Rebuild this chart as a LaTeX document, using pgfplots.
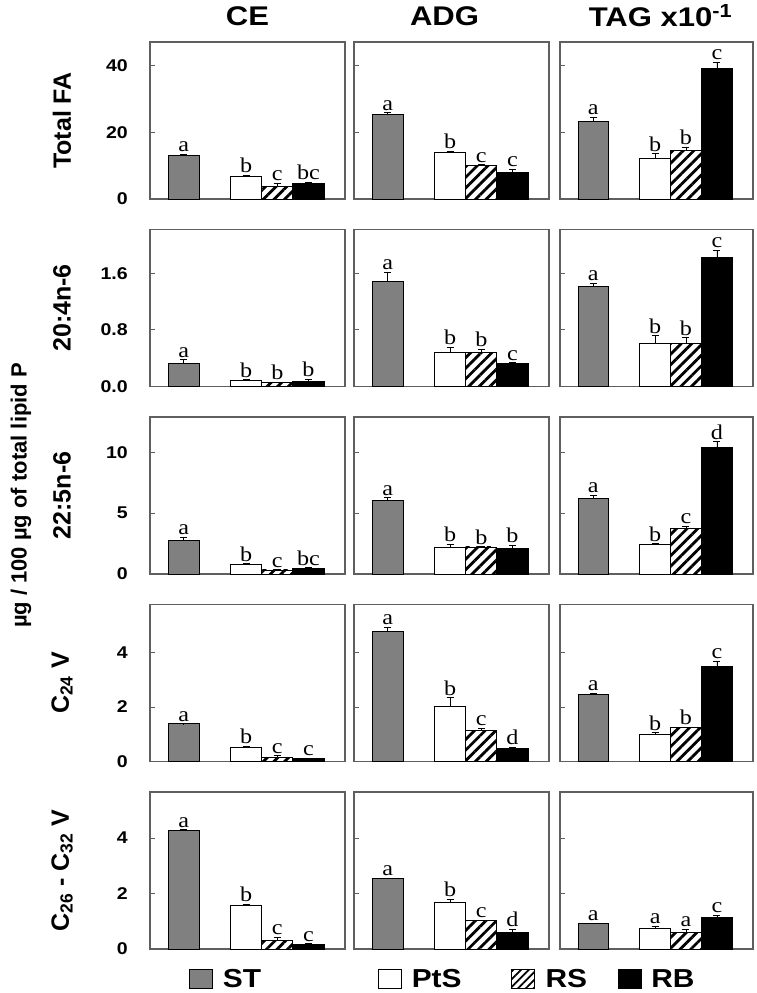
\documentclass[border=0pt]{standalone}
\usepackage{fontspec}
\setmainfont{Liberation Sans}[FakeStretch=1.15]
\newfontfamily\rotfont{Liberation Sans}
\newfontfamily\letterfont{Liberation Serif}[FakeStretch=1.15]
\usepackage{pgfplots}
\pgfplotsset{compat=1.18}
\usetikzlibrary{patterns.meta}
\definecolor{stgray}{RGB}{128,128,128}
\definecolor{framegray}{RGB}{95,95,95}
\newcommand\tickfont{\fontsize{17}{19}\selectfont\bfseries}
\newcommand\titlefont{\fontsize{27}{30}\selectfont\bfseries}
\newcommand\rowfont{\rotfont\fontsize{25}{28}\selectfont\bfseries}
\newcommand\commonfont{\rotfont\fontsize{22}{24}\selectfont\bfseries}
\newcommand\legfont{\fontsize{26}{28}\selectfont\bfseries}
\newcommand\letfont{\letterfont\fontsize{21}{23}\selectfont}

\tikzset{
  st/.style={fill=stgray, draw=black, line width=0.8pt},
  pts/.style={fill=white, draw=black, line width=0.8pt},
  rs/.style={fill=white, draw=black, line width=0.8pt, postaction={pattern={Lines[angle=45,distance=7.5pt,line width=2.8pt]}}},
  rsleg/.style={fill=white, draw=black, line width=0.8pt, postaction={pattern={Lines[angle=45,distance=5.5pt,line width=1.8pt]}}},
  rb/.style={fill=black, draw=black, line width=0.8pt},
}
\pgfplotsset{
  panel/.style={scale only axis, height=157pt, anchor=north west,
    xmin=-1.08, xmax=5.17, ymin=0, xtick=\empty,
    ytick pos=left, tick align=inside, major tick length=5pt,
    axis line style={draw=framegray, line width=1.3pt},
    every tick/.append style={draw=framegray, line width=0.9pt},
    yticklabel style={font=\tickfont, inner sep=0pt, xshift=-22pt},
    ylabel style={font=\rowfont, at={(axis description cs:-0.451,0.5)}, anchor=center},
    title style={font=\titlefont, at={(axis description cs:0.5,1)}, anchor=center, yshift=20pt},
    clip=false},
  nolab/.style={yticklabels={,,}},
  r1/.style={ymax=47, ytick={0,20,40}, yticklabels={0,20,40}},
  r2/.style={ymax=2.22, ytick={0,0.8,1.6}, yticklabels={0.0,0.8,1.6}},
  r3/.style={ymax=12.9, ytick={0,5,10}, yticklabels={0,5,10}},
  r4/.style={ymax=5.76, ytick={0,2,4}, yticklabels={0,2,4}},
  r5/.style={ymax=5.66, ytick={0,2,4}, yticklabels={0,2,4}},
}
% one bar: x, value, error, letter, style
\newcommand\bx[5]{%
 \addplot[#5, ybar, bar width=1, bar shift=0pt, forget plot,
   error bars/.cd, y dir=plus, y explicit,
   error bar style={draw=black, line width=0.7pt, solid},
   error mark options={draw=black, rotate=90, mark size=3.5pt, line width=0.7pt}]
   table[header=false, row sep=\\, x index=0, y index=1, y error index=2] {#1 #2 #3\\};
 \addplot[draw=none, mark=none, forget plot, nodes near coords, point meta=explicit symbolic,
   nodes near coords style={anchor=south, font=\letfont, inner sep=2pt, text=black}]
   table[header=false, row sep=\\, x index=0, y expr=\thisrowno{1}+\thisrowno{2}, meta index=3] {#1 #2 #3 #4\\};
}

\begin{document}
\begin{tikzpicture}
\useasboundingbox (0,0) rectangle (757pt,-993pt);

% ---------- Row 1: Total FA ----------
\begin{axis}[panel, r1, width=195pt, at={(150pt,-42pt)}, ylabel={Total FA}, title={CE}]
\bx{0}{13.0}{0.4}{a}{st}
\bx{2}{6.7}{0.4}{b}{pts}
\bx{3}{3.8}{1.0}{c}{rs}
\bx{4}{4.8}{0.3}{bc}{rb}
\end{axis}
\begin{axis}[panel, r1, nolab, width=195pt, at={(354pt,-42pt)}, title={ADG}, title style={xshift=-7pt}]
\bx{0}{25.2}{0.6}{a}{st}
\bx{2}{13.8}{0.6}{b}{pts}
\bx{3}{10.0}{0.3}{c}{rs}
\bx{4}{8.0}{1.0}{c}{rb}
\end{axis}
\begin{axis}[panel, r1, nolab, width=193pt, at={(560pt,-42pt)}, title={TAG x10\textsuperscript{-1}}, title style={xshift=4pt}]
\bx{0}{23.2}{1.3}{a}{st}
\bx{2}{12.3}{1.3}{b}{pts}
\bx{3}{14.4}{1.2}{b}{rs}
\bx{4}{39.0}{2.0}{c}{rb}
\end{axis}

% ---------- Row 2: 20:4n-6 ----------
\begin{axis}[panel, r2, width=195pt, at={(150pt,-229.5pt)}, ylabel={20:4n-6}]
\bx{0}{0.32}{0.06}{a}{st}
\bx{2}{0.085}{0.012}{b}{pts}
\bx{3}{0.057}{0.008}{b}{rs}
\bx{4}{0.076}{0.03}{b}{rb}
\end{axis}
\begin{axis}[panel, r2, nolab, width=195pt, at={(354pt,-229.5pt)}]
\bx{0}{1.48}{0.14}{a}{st}
\bx{2}{0.48}{0.08}{b}{pts}
\bx{3}{0.48}{0.045}{b}{rs}
\bx{4}{0.32}{0.015}{c}{rb}
\end{axis}
\begin{axis}[panel, r2, nolab, width=193pt, at={(560pt,-229.5pt)}]
\bx{0}{1.42}{0.04}{a}{st}
\bx{2}{0.61}{0.11}{b}{pts}
\bx{3}{0.61}{0.08}{b}{rs}
\bx{4}{1.83}{0.10}{c}{rb}
\end{axis}

% ---------- Row 3: 22:5n-6 ----------
\begin{axis}[panel, r3, width=195pt, at={(150pt,-417pt)}, ylabel={22:5n-6},
  extra description/.code={\node[rotate=90, font=\commonfont, anchor=center] at (axis description cs:-0.662,0.5) {µg / 100 µg of total lipid P};}]
\bx{0}{2.75}{0.30}{a}{st}
\bx{2}{0.83}{0.02}{b}{pts}
\bx{3}{0.33}{0.03}{c}{rs}
\bx{4}{0.44}{0.09}{bc}{rb}
\end{axis}
\begin{axis}[panel, r3, nolab, width=195pt, at={(354pt,-417pt)}]
\bx{0}{6.08}{0.20}{a}{st}
\bx{2}{2.22}{0.22}{b}{pts}
\bx{3}{2.22}{0.03}{b}{rs}
\bx{4}{2.14}{0.22}{b}{rb}
\end{axis}
\begin{axis}[panel, r3, nolab, width=193pt, at={(560pt,-417pt)}]
\bx{0}{6.25}{0.25}{a}{st}
\bx{2}{2.42}{0.08}{b}{pts}
\bx{3}{3.75}{0.20}{c}{rs}
\bx{4}{10.44}{0.45}{d}{rb}
\end{axis}

% ---------- Row 4: C24 V ----------
\begin{axis}[panel, r4, width=195pt, at={(150pt,-604.5pt)}, ylabel={C\textsubscript{24} V}]
\bx{0}{1.38}{0.01}{a}{st}
\bx{2}{0.53}{0.04}{b}{pts}
\bx{3}{0.16}{0.05}{c}{rs}
\bx{4}{0.12}{0.01}{c}{rb}
\end{axis}
\begin{axis}[panel, r4, nolab, width=195pt, at={(354pt,-604.5pt)}]
\bx{0}{4.76}{0.17}{a}{st}
\bx{2}{2.04}{0.30}{b}{pts}
\bx{3}{1.14}{0.08}{c}{rs}
\bx{4}{0.48}{0.04}{d}{rb}
\end{axis}
\begin{axis}[panel, r4, nolab, width=193pt, at={(560pt,-604.5pt)}]
\bx{0}{2.47}{0.04}{a}{st}
\bx{2}{0.99}{0.07}{b}{pts}
\bx{3}{1.24}{0.02}{b}{rs}
\bx{4}{3.50}{0.19}{c}{rb}
\end{axis}

% ---------- Row 5: C26 - C32 V ----------
\begin{axis}[panel, r5, width=195pt, at={(150pt,-792pt)}, ylabel={C\textsubscript{26} - C\textsubscript{32} V},
  legend columns=4,
  legend style={at={(axis description cs:0.2,-0.191)}, anchor=west, draw=none, fill=none,
    inner sep=0pt, font=\legfont, nodes={inner sep=0pt},
    /tikz/every odd column/.style={column sep=10pt}},
  legend image code/.code={\draw[#1] (0pt,-9.5pt) rectangle (23pt,9.5pt);}]
\bx{0}{4.29}{0.01}{a}{st}
\bx{2}{1.56}{0.05}{b}{pts}
\bx{3}{0.32}{0.10}{c}{rs}
\bx{4}{0.18}{0.01}{c}{rb}
\addlegendimage{st}\addlegendentry{\makebox[155pt][l]{ST}}
\addlegendimage{pts}\addlegendentry{\makebox[99pt][l]{PtS}}
\addlegendimage{rsleg}\addlegendentry{\makebox[72pt][l]{RS}}
\addlegendimage{rb}\addlegendentry{RB}
\end{axis}
\begin{axis}[panel, r5, nolab, width=195pt, at={(354pt,-792pt)}]
\bx{0}{2.53}{0.03}{a}{st}
\bx{2}{1.68}{0.12}{b}{pts}
\bx{3}{1.02}{0.03}{c}{rs}
\bx{4}{0.60}{0.12}{d}{rb}
\end{axis}
\begin{axis}[panel, r5, nolab, width=193pt, at={(560pt,-792pt)}]
\bx{0}{0.93}{0.01}{a}{st}
\bx{2}{0.76}{0.07}{a}{pts}
\bx{3}{0.60}{0.12}{a}{rs}
\bx{4}{1.14}{0.08}{c}{rb}
\end{axis}
\end{tikzpicture}
\end{document}
